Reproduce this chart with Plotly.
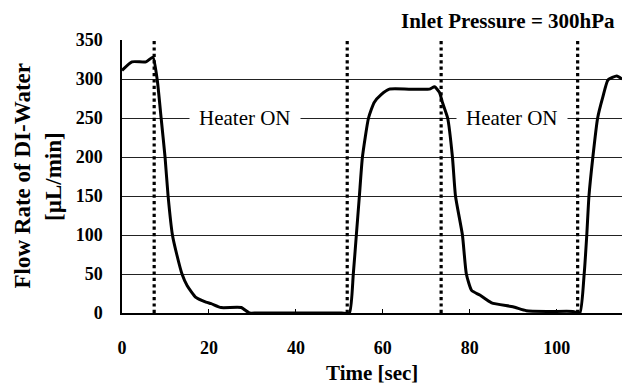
import plotly.graph_objects as go

# ---- data ----
time_s = [0, 2.3, 5.5, 7.1, 8.1, 9.0, 9.9, 10.6, 11.6, 12.6, 13.8, 15.0, 17.0, 19.3, 20.5,
          22.8, 27.4, 29.3, 31.0, 40.0, 50.5, 52.3, 53.2, 53.9, 54.6, 55.3, 56.7, 58.0,
          59.6, 61.5, 66.0, 70.7,
          71.9, 73.0, 73.7, 74.9, 76.0, 76.7, 78.3, 79.2, 80.4, 82.3, 85.0, 89.9, 93.0,
          98.0, 103.7, 105.3, 106.3, 106.9, 107.4, 108.3, 109.4, 110.6, 111.8, 113.8, 115.0]
flow = [311, 322, 322, 328, 299, 250, 200, 150, 100, 75, 50, 35, 20, 14, 12,
        7, 7, 0, 0, 0, 0, 0, 50, 100, 150, 200, 250, 270,
        280, 287, 287, 287,
        290, 283, 270, 250, 200, 150, 100, 50, 29, 23, 13, 8, 3,
        2, 2, 0, 50, 100, 150, 200, 250, 277, 299, 304, 300]

heater_times = [7.4, 51.8, 73.4, 104.8]
heater_label = "Heater ON"
heater_label_x = [28.3, 89.6]
y_ticks = [0, 50, 100, 150, 200, 250, 300, 350]
x_ticks = [0, 20, 40, 60, 80, 100]

FONT = "Liberation Serif"

fig = go.Figure()

# dotted heater-switch lines
vx, vy = [], []
for t in heater_times:
    vx += [t, t, None]
    vy += [0, 350, None]
fig.add_trace(go.Scatter(x=vx, y=vy, mode="lines",
                         line=dict(color="black", width=3.2, dash="dot"),
                         hoverinfo="skip", showlegend=False))

fig.add_trace(go.Scatter(x=time_s, y=flow, mode="lines",
                         line=dict(color="black", width=3, shape="spline", smoothing=0.5),
                         cliponaxis=False, showlegend=False))

for lx in heater_label_x:
    fig.add_annotation(x=lx, y=250, text=heater_label, showarrow=False,
                       font=dict(family=FONT, size=21, color="black"),
                       bgcolor="white", borderpad=9, xref="x", yref="y",
                       xanchor="center", yanchor="middle")

fig.add_annotation(x=0.99, y=1.07, xref="paper", yref="paper", xanchor="right",
                   yanchor="middle", text="Inlet Pressure = 300hPa", showarrow=False,
                   font=dict(family=FONT, size=21, color="black", weight="bold"))

fig.add_annotation(x=-0.2, y=0.5, xref="paper", yref="paper", text="Flow Rate of DI-Water",
                   textangle=-90, showarrow=False, xanchor="center", yanchor="middle",
                   font=dict(family=FONT, size=23, color="black", weight="bold"))
fig.add_annotation(x=-0.137, y=0.5, xref="paper", yref="paper", text="[µL/min]",
                   textangle=-90, showarrow=False, xanchor="center", yanchor="middle",
                   font=dict(family=FONT, size=23, color="black", weight="bold"))
fig.add_annotation(x=0.5, y=-0.22, xref="paper", yref="paper", text="Time [sec]",
                   showarrow=False, xanchor="center", yanchor="middle",
                   font=dict(family=FONT, size=21, color="black", weight="bold"))

fig.update_xaxes(range=[0, 115], tickvals=x_ticks, ticks="inside", ticklen=4,
                 tickcolor="black", showgrid=False, zeroline=False,
                 showline=True, linecolor="black", linewidth=1.5,
                 tickfont=dict(family=FONT, size=18, color="black", weight="bold"),
                 ticklabelstandoff=18)
fig.update_yaxes(range=[0, 350], tickvals=y_ticks, ticks="", showgrid=True,
                 gridcolor="#222222", gridwidth=1, zeroline=False,
                 showline=True, linecolor="black", linewidth=1.5,
                 tickfont=dict(family=FONT, size=18, color="black", weight="bold"),
                 ticklabelstandoff=14)

fig.update_layout(width=622, height=388, margin=dict(l=122, r=0, t=40, b=75),
                  paper_bgcolor="white", plot_bgcolor="white", showlegend=False)

fig.write_html("out.html", config={"displayModeBar": False},
               post_script="document.body.style.margin='0';document.body.style.overflow='hidden';")
